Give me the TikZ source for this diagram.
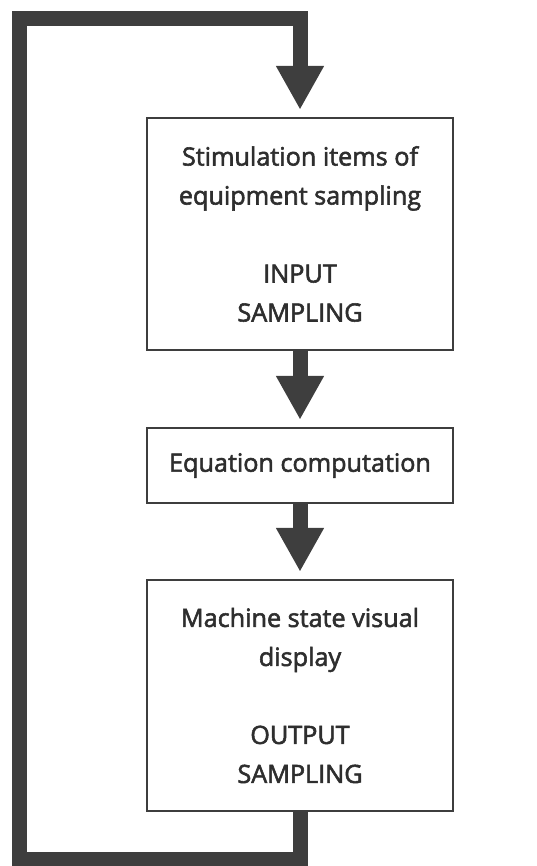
\documentclass[tikz,border=0pt]{standalone}
\usepackage{fontspec}
\setmainfont{Open Sans}
\usetikzlibrary{arrows.meta}
\definecolor{ink}{HTML}{3E3E3E}
\definecolor{txt}{HTML}{2E2E2E}
% slightly heavier glyphs: fill and stroke the outlines
\newcommand\strokedtext{\special{pdf:literal direct 2 Tr 0.55 w}}
\tikzset{
  box/.style={draw=ink, line width=2.4pt, fill=white, minimum width=306pt,
    inner sep=0pt, align=center, text=txt,
    font=\fontsize{25.2}{39}\selectfont\strokedtext},
  flow/.style={draw=ink, line width=15pt, line join=miter,
    -{Triangle[width=45pt,length=44pt]}, shorten >=7pt}
}
\begin{document}
\begin{tikzpicture}[x=1pt,y=-1pt]
  \useasboundingbox (0,0) rectangle (537,866);

  % processing blocks
  \node[box, minimum height=232pt] (sample) at (300,234)
    {Stimulation items of\\equipment sampling\\[39pt]INPUT\\SAMPLING};
  \node[box, minimum height=75pt] (compute) at (300,465.5)
    {Equation computation};
  \node[box, minimum height=231pt] (display) at (300,695.5)
    {Machine state visual\\display\\[39pt]OUTPUT\\SAMPLING};

  % corners of the feedback loop
  \coordinate (lowright) at (300,859);
  \coordinate (lowleft)  at (19,859);
  \coordinate (upleft)   at (19,18.5);
  \coordinate (upright)  at (300,18.5);

  % forward flow
  \draw[flow] (sample) -- (compute);
  \draw[flow] (compute) -- (display);

  % feedback from output back to input
  \draw[flow] (display.south) -- (lowright) -- (lowleft) -- (upleft)
    -- (upright) -- (sample.north);
\end{tikzpicture}
\end{document}
